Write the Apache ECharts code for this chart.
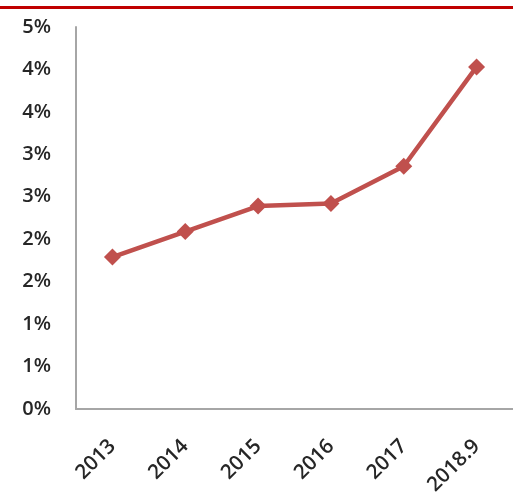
<!DOCTYPE html>
<html>
<head>
<meta charset="utf-8">
<script src="https://cdn.jsdelivr.net/npm/echarts@6/dist/echarts.min.js"></script>
<style>html,body{margin:0;padding:0;background:#fff}#c{width:513px;height:502px}</style>
</head>
<body>
<div id="c"></div>
<script>
var categories = ['2013', '2014', '2015', '2016', '2017', '2018.9'];
var values = [1.79, 2.09, 2.39, 2.42, 2.86, 4.03];
var yMin = 0, yMax = 4.5, yStep = 0.5;

var chart = echarts.init(document.getElementById('c'));
chart.setOption({
  animation: false,
  backgroundColor: '#fff',
  graphic: [{
    type: 'rect', left: 0, top: 6,
    shape: { width: 513, height: 3 },
    style: { fill: '#c00000' }
  }],
  grid: { left: 76, right: 0, top: 27, bottom: 93, containLabel: false },
  xAxis: {
    type: 'category',
    data: categories,
    boundaryGap: true,
    axisLine: { show: true, lineStyle: { color: '#a6a6a6', width: 2 } },
    axisTick: { show: false },
    axisLabel: {
      rotate: 45, margin: 34, color: '#262626',
      fontFamily: 'Open Sans', fontWeight: 600, fontSize: 20.5
    },
    splitLine: { show: false }
  },
  yAxis: {
    type: 'value',
    min: yMin, max: yMax, interval: yStep,
    axisLine: { show: true, lineStyle: { color: '#a6a6a6', width: 2 } },
    axisTick: { show: false },
    splitLine: { show: false },
    axisLabel: {
      margin: 25, color: '#262626',
      fontFamily: 'Open Sans', fontWeight: 600, fontSize: 20,
      formatter: function (v) { return Math.round(v) + '%'; }
    }
  },
  series: [{
    type: 'line',
    data: values,
    symbol: 'diamond',
    symbolSize: 17,
    lineStyle: { color: '#c0504d', width: 4.5 },
    itemStyle: { color: '#c0504d' }
  }]
});
</script>
</body>
</html>
